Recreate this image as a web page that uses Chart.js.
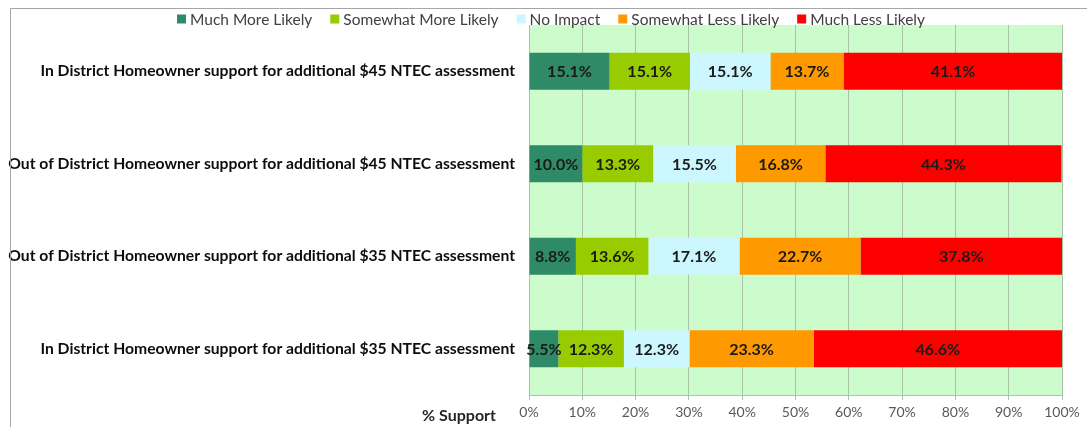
<!DOCTYPE html>
<html><head><meta charset="utf-8">
<script src="https://cdn.jsdelivr.net/npm/chart.js@4.4.0/dist/chart.umd.min.js"></script>
<style>html,body{margin:0;padding:0;background:#fff;}#wrap{width:1087px;height:427px;position:relative;}</style>
</head><body><div id="wrap"><canvas id="c" width="1087" height="427"></canvas></div>
<script>
const categories = [
  "In District Homeowner support for additional $45 NTEC assessment",
  "Out of District Homeowner support for additional $45 NTEC assessment",
  "Out of District Homeowner support for additional $35 NTEC assessment",
  "In District Homeowner support for additional $35 NTEC assessment"
];
const seriesNames = ["Much More Likely","Somewhat More Likely","No Impact","Somewhat Less Likely","Much Less Likely"];
const muchMore = [15.1, 10.0, 8.8, 5.5];
const somewhatMore = [15.1, 13.3, 13.6, 12.3];
const noImpact = [15.1, 15.5, 17.1, 12.3];
const somewhatLess = [13.7, 16.8, 22.7, 23.3];
const muchLess = [41.1, 44.3, 37.8, 46.6];
const xTicks = ["0%","10%","20%","30%","40%","50%","60%","70%","80%","90%","100%"];
const axisTitle = "% Support";
const colors = ["#2f8a68","#99cc00","#ccf7ff","#ff9900","#ff0000"];
const allSeries = [muchMore, somewhatMore, noImpact, somewhatLess, muchLess];

const FONT = "Lato, 'Open Sans', sans-serif";

const bgPlugin = {
  id:'bg',
  beforeDraw(chart){
    const {ctx, chartArea:a} = chart;
    ctx.save();
    ctx.fillStyle = '#ccfccc';
    ctx.fillRect(a.left, a.top, a.right-a.left, a.bottom-a.top);
    ctx.restore();
  },
  afterDraw(chart){
    const {ctx, chartArea:a} = chart;
    ctx.save();
    // data labels
    ctx.font = "bold 16px " + FONT;
    ctx.fillStyle = '#1a1a1a';
    ctx.textAlign = 'center';
    ctx.textBaseline = 'middle';
    chart.data.datasets.forEach((ds, di) => {
      const meta = chart.getDatasetMeta(di);
      meta.data.forEach((bar, i) => {
        const v = ds.data[i];
        const cx = (bar.x + bar.base)/2;
        ctx.fillText(v.toFixed(1) + '%', cx, bar.y + 1);
      });
    });
    // legend
    ctx.font = "15.5px " + FONT;
    ctx.textAlign = 'left';
    const box = 9, gapBT = 4, gapItem = 18, ly = 19;
    const items = chart.data.datasets.map(ds => ({ t: ds.label, c: ds.backgroundColor, w: box + gapBT + ctx.measureText(ds.label).width }));
    const total = items.reduce((s, it) => s + it.w, 0) + gapItem * (items.length - 1);
    let x = 551 - total / 2;
    items.forEach(it => {
      ctx.fillStyle = it.c;
      ctx.fillRect(x, ly - box/2, box, box);
      ctx.fillStyle = '#404040';
      ctx.fillText(it.t, x + box + gapBT, ly + 1);
      x += it.w + gapItem;
    });
    // axis title
    ctx.font = "bold 16px " + FONT;
    ctx.fillStyle = '#262626';
    ctx.textAlign = 'right';
    ctx.fillText(axisTitle, 496, 416);
    // outer border
    ctx.strokeStyle = '#a6a6a6';
    ctx.lineWidth = 1;
    ctx.beginPath();
    ctx.moveTo(10.5, 427); ctx.lineTo(10.5, 8.5); ctx.lineTo(1087, 8.5);
    ctx.stroke();
    ctx.restore();
  }
};

new Chart(document.getElementById('c'), {
  type: 'bar',
  data: {
    labels: categories,
    datasets: seriesNames.map((n, k) => ({
      label: n,
      data: allSeries[k],
      backgroundColor: colors[k],
      borderWidth: 0,
      barPercentage: 0.4,
      categoryPercentage: 1.0
    }))
  },
  options: {
    indexAxis: 'y',
    responsive: false,
    animation: false,
    layout: { padding: { left: 0, right: 25, top: 25, bottom: 0 } },
    plugins: {
      legend: { display: false },
      tooltip: { enabled: false }
    },
    scales: {
      x: {
        stacked: true, min: 0, max: 100,
        ticks: { stepSize: 10, color: '#595959', font: { family: FONT, size: 14 },
          callback: (v, i) => xTicks[i], padding: 4 },
        grid: { color: '#a9c4a9', tickLength: 5, drawOnChartArea: true },
        border: { color: '#a9c4a9' },
        afterFit(s){ s.height = 32; }
      },
      y: {
        stacked: true,
        ticks: { color: '#0d0d0d', font: { family: FONT, size: 15.7, weight: 'bold' }, padding: 14 },
        grid: { display: false, drawTicks: false },
        border: { color: '#a9c4a9' },
        afterFit(s){ s.width = 529; }
      }
    }
  },
  plugins: [bgPlugin]
});
</script></body></html>
